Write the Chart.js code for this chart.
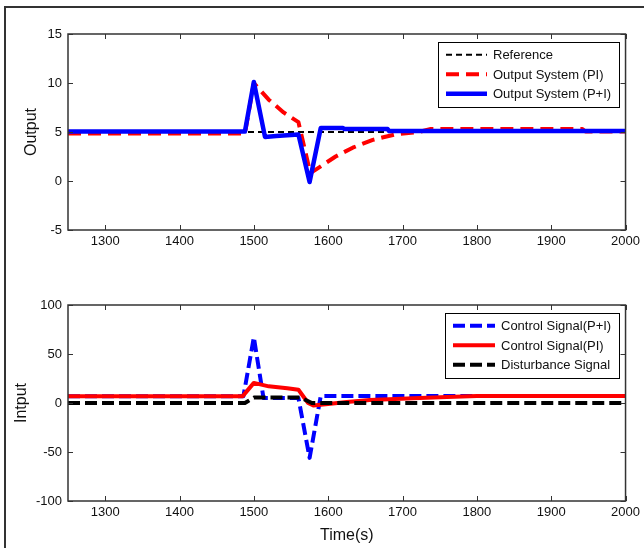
<!DOCTYPE html>
<html><head><meta charset="utf-8">
<script src="https://cdn.jsdelivr.net/npm/chart.js@4.4.1/dist/chart.umd.min.js"></script>
<style>
html,body{margin:0;padding:0;background:#fff;}
body{width:644px;height:548px;position:relative;overflow:hidden;}
#frame{position:absolute;left:4px;top:6px;width:700px;height:600px;border-top:2px solid #333;border-left:2px solid #333;}
.wrap{position:absolute;left:0;width:644px;height:274px;}
canvas{display:block;}
</style></head><body>
<div id="frame"></div>
<div class="wrap" style="top:0"><canvas id="c1" width="644" height="274"></canvas></div>
<div class="wrap" style="top:274px"><canvas id="c2" width="644" height="274"></canvas></div>
<script>
// ---- tick labels ----
const timeTicks = [1300, 1400, 1500, 1600, 1700, 1800, 1900, 2000];
const outputTicks = [-5, 0, 5, 10, 15];
const inputTicks = [-100, -50, 0, 50, 100];

// ---- top panel: outputs ----
const refTime = [1250, 2000];
const refValues = [5, 5];
const piOutTime = [1250, 1488, 1500, 1520, 1540, 1560, 1576, 1590, 1610, 1633, 1660, 1690, 1722, 1738, 1942, 1946, 2000];
const piOutValues = [4.85, 4.85, 10, 8.3, 7.0, 6.0, 0.8, 1.5, 2.5, 3.4, 4.2, 4.75, 5.0, 5.3, 5.3, 5.05, 5.05];
const piiOutTime = [1250, 1488, 1500, 1515, 1530, 1560, 1575, 1590, 1620, 1622, 1680, 1682, 2000];
const piiOutValues = [5.05, 5.05, 10.1, 4.5, 4.6, 4.75, -0.1, 5.4, 5.4, 5.3, 5.3, 5.1, 5.1];

// ---- bottom panel: inputs ----
const piiCtrlTime = [1250, 1486, 1500, 1513, 1560, 1575, 1590, 2000];
const piiCtrlValues = [7, 7, 67, 5, 5, -56, 7.2, 7.2];
const piCtrlTime = [1250, 1485, 1500, 1520, 1545, 1560, 1573, 1580, 1600, 1625, 1656, 1690, 1723, 1760, 1800, 2000];
const piCtrlValues = [7, 7, 20.5, 17, 15, 13.5, 0, -2.5, -1, 1, 3, 4.2, 5.2, 6.2, 7.2, 7.2];
const distTime = [1250, 1488, 1500, 1563, 1578, 2000];
const distValues = [0, 0, 5.5, 5.5, 0, 0];

const pts = (t, v) => t.map((x, i) => ({x: x, y: v[i]}));
const FONT = '"Liberation Sans", Arial, sans-serif';
Chart.defaults.font.family = FONT;
Chart.defaults.color = '#111';

const matlabAxes = {
  id: 'matlabAxes',
  afterDatasetsDraw(chart) {
    const ctx = chart.ctx, a = chart.chartArea;
    const xs = chart.scales.x, ys = chart.scales.y;
    ctx.save();
    ctx.strokeStyle = '#333';
    ctx.lineWidth = 1.5;
    ctx.setLineDash([]);
    ctx.strokeRect(a.left, a.top, a.right - a.left, a.bottom - a.top);
    ctx.lineWidth = 1;
    ctx.beginPath();
    xs.ticks.forEach(t => {
      const p = Math.round(xs.getPixelForValue(t.value)) + 0.5;
      ctx.moveTo(p, a.bottom); ctx.lineTo(p, a.bottom - 5);
      ctx.moveTo(p, a.top); ctx.lineTo(p, a.top + 5);
    });
    ys.ticks.forEach(t => {
      const p = Math.round(ys.getPixelForValue(t.value)) + 0.5;
      ctx.moveTo(a.left, p); ctx.lineTo(a.left + 5, p);
      ctx.moveTo(a.right, p); ctx.lineTo(a.right - 5, p);
    });
    ctx.stroke();
    ctx.restore();
  }
};

const boxLegend = {
  id: 'boxLegend',
  afterDraw(chart, args, o) {
    const ctx = chart.ctx, a = chart.chartArea;
    const items = chart.data.datasets;
    ctx.save();
    ctx.font = '13px ' + FONT;
    const tw = Math.max(...items.map(d => ctx.measureText(d.label).width));
    const w = o.pad + o.sample + o.gap + tw + o.padRight;
    const h = o.rowTop * 2 + o.row * (items.length - 1);
    const right = a.right - o.offX, top = a.top + o.offY;
    const left = Math.round(right - w);
    ctx.fillStyle = '#fff';
    ctx.fillRect(left, Math.round(top), Math.round(right) - left, Math.round(h));
    ctx.strokeStyle = '#000'; ctx.lineWidth = 1;
    ctx.strokeRect(left + 0.5, Math.round(top) + 0.5, Math.round(right) - left, Math.round(h));
    items.forEach((d, i) => {
      const y = top + o.rowTop + i * o.row;
      ctx.beginPath();
      ctx.setLineDash(d.borderDash || []);
      ctx.lineWidth = d.borderWidth;
      ctx.strokeStyle = d.borderColor;
      ctx.moveTo(left + o.pad, y); ctx.lineTo(left + o.pad + o.sample, y);
      ctx.stroke();
      ctx.setLineDash([]);
      ctx.fillStyle = '#111'; ctx.textBaseline = 'middle'; ctx.textAlign = 'left';
      ctx.fillText(d.label, left + o.pad + o.sample + o.gap, y + 1);
    });
    ctx.restore();
  }
};

function makeChart(id, cfg) {
  return new Chart(document.getElementById(id), {
    type: 'line',
    data: {datasets: cfg.datasets},
    options: {
      responsive: false, animation: false, devicePixelRatio: 1,
      layout: {padding: {left: 0, right: 18, top: cfg.padTop, bottom: 0}},
      elements: {point: {radius: 0}, line: {tension: 0, borderJoinStyle: 'round'}},
      plugins: {legend: {display: false}, tooltip: {enabled: false},
        boxLegend: {offX: 7, offY: 8, pad: 8, sample: cfg.sample, gap: 6, padRight: 7, rowTop: 12.8, row: 19.5}},
      scales: {
        x: {type: 'linear', min: 1250, max: 2000,
          afterBuildTicks: s => { s.ticks = timeTicks.map(v => ({value: v})); },
          afterFit: s => { s.height = cfg.xh; },
          grid: {display: false, drawTicks: false}, border: {display: false},
          ticks: {font: {size: 13}, color: '#111', padding: 4, maxRotation: 0, autoSkip: false, callback: v => String(v)},
          title: {display: !!cfg.xTitle, text: cfg.xTitle || '', font: {size: 16}, color: '#111', padding: {top: 0, bottom: 3}}
        },
        y: {type: 'linear', min: cfg.yTicks[0], max: cfg.yTicks[cfg.yTicks.length - 1],
          afterBuildTicks: s => { s.ticks = cfg.yTicks.map(v => ({value: v})); },
          afterFit: s => { s.width = 68; },
          grid: {display: false, drawTicks: false}, border: {display: false},
          ticks: {font: {size: 13}, color: '#111', padding: 6, autoSkip: false, callback: v => String(v)},
          title: {display: true, text: cfg.yTitle, font: {size: 16}, color: '#111', padding: {top: cfg.yTitlePad, bottom: 0}}
        }
      }
    },
    plugins: [matlabAxes, boxLegend]
  });
}

makeChart('c1', {
  padTop: 34, xh: 44, yTicks: outputTicks, yTitle: 'Output', yTitlePad: 22, sample: 41,
  datasets: [
    {label: 'Reference', data: pts(refTime, refValues), borderColor: '#000', borderWidth: 2, borderDash: [6, 4], order: 3},
    {label: 'Output System (PI)', data: pts(piOutTime, piOutValues), borderColor: '#ff0000', borderWidth: 4, borderDash: [13, 7], order: 2},
    {label: 'Output System (P+I)', data: pts(piiOutTime, piiOutValues), borderColor: '#0000ff', borderWidth: 4.5, order: 1}
  ]
});

makeChart('c2', {
  padTop: 31, xh: 47, yTicks: inputTicks, yTitle: 'Intput', yTitlePad: 12, xTitle: 'Time(s)', sample: 42,
  datasets: [
    {label: 'Control Signal(P+I)', data: pts(piiCtrlTime, piiCtrlValues), borderColor: '#0000ff', borderWidth: 4, borderDash: [12, 5], order: 3},
    {label: 'Control Signal(PI)', data: pts(piCtrlTime, piCtrlValues), borderColor: '#ff0000', borderWidth: 4, order: 2},
    {label: 'Disturbance Signal', data: pts(distTime, distValues), borderColor: '#000', borderWidth: 4, borderDash: [12, 5], order: 1}
  ]
});
</script>
</body></html>
